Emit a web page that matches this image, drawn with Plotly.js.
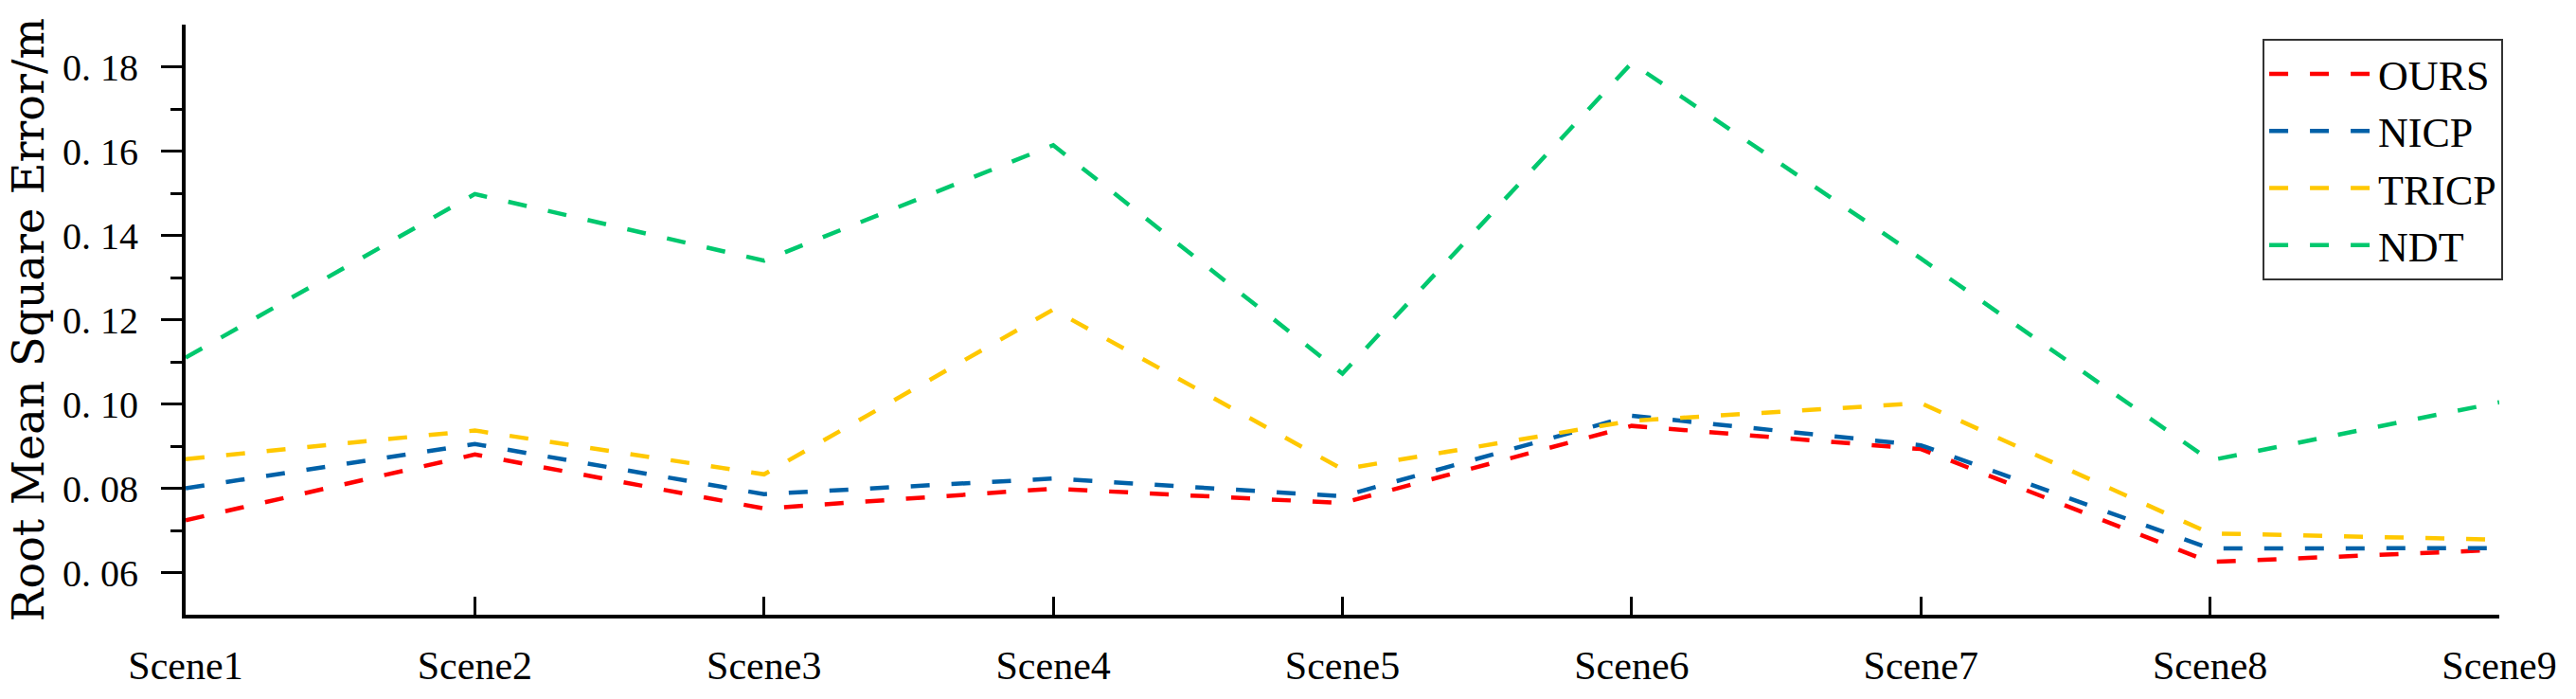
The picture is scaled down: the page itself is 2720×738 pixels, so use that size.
<!DOCTYPE html>
<html>
<head>
<meta charset="utf-8">
<script src="https://cdn.plot.ly/plotly-3.0.1.min.js"></script>
<style>html,body{margin:0;padding:0;background:#fff;}#chart{width:2720px;height:738px;}</style>
</head>
<body>
<div id="chart"></div>
<script>
const scenes = ["Scene1","Scene2","Scene3","Scene4","Scene5","Scene6","Scene7","Scene8","Scene9"];
const ours  = [0.0724, 0.0880, 0.0752, 0.0799, 0.0765, 0.0948, 0.0893, 0.0625, 0.0654];
const nicp  = [0.0800, 0.0905, 0.0786, 0.0823, 0.0781, 0.0972, 0.0902, 0.0657, 0.0658];
const tricp = [0.0869, 0.0937, 0.0833, 0.1224, 0.0845, 0.0960, 0.1002, 0.0693, 0.0678];
const ndt   = [0.1110, 0.1498, 0.1340, 0.1614, 0.1072, 0.1809, 0.1345, 0.0866, 0.1004];
const yTickVals = [0.06, 0.08, 0.10, 0.12, 0.14, 0.16, 0.18];
const yTickText = ["0. 06", "0. 08", "0. 10", "0. 12", "0. 14", "0. 16", "0. 18"];
const yMinorVals = [0.07, 0.09, 0.11, 0.13, 0.15, 0.17];

const series = [
  {name: "OURS", y: ours, color: "#FF0000"},
  {name: "NICP", y: nicp, color: "#0061A8"},
  {name: "TRICP", y: tricp, color: "#FFC800"},
  {name: "NDT", y: ndt, color: "#00C86E"}
];

const traces = series.map(s => ({
  type: "scatter",
  mode: "lines",
  name: s.name,
  x: scenes,
  y: s.y,
  line: {color: s.color, width: 4.5, dash: "20px,23px"},
  hoverinfo: "skip"
}));

const layout = {
  width: 2720,
  height: 738,
  margin: {l: 196, r: 81, t: 26, b: 89},
  paper_bgcolor: "#ffffff",
  plot_bgcolor: "#ffffff",
  font: {family: "Liberation Serif, serif", color: "#000"},
  showlegend: true,
  legend: {
    x: 0.8977, y: 0.976, xanchor: "left", yanchor: "top",
    bgcolor: "#ffffff", bordercolor: "#333333", borderwidth: 2,
    font: {family: "Liberation Serif, serif", size: 44, color: "#000"},
    itemwidth: 110,
    tracegroupgap: 0
  },
  xaxis: {
    type: "category",
    range: [0, 8],
    showline: true, linecolor: "#000", linewidth: 4,
    ticks: "inside", ticklen: 19, tickwidth: 3, tickcolor: "#000",
    showgrid: false, zeroline: false,
    tickfont: {family: "Liberation Serif, serif", size: 42, color: "#000"},
    ticklabelstandoff: 14,
    automargin: false,
    fixedrange: true
  },
  yaxis: {
    range: [0.05, 0.19],
    tickmode: "array", tickvals: yTickVals, ticktext: yTickText,
    showline: true, linecolor: "#000", linewidth: 4,
    ticks: "outside", ticklen: 22, tickwidth: 3, tickcolor: "#000",
    minor: {tickmode: "array", tickvals: yMinorVals, ticks: "outside", ticklen: 12, tickwidth: 3, tickcolor: "#000", showgrid: false},
    showgrid: false, zeroline: false,
    tickfont: {family: "Liberation Serif, serif", size: 40, color: "#000"},
    ticklabelstandoff: 16,
    title: {text: "Root Mean Square Error/m", font: {family: "DejaVu Serif, serif", size: 46, color: "#000"}, standoff: 6},
    automargin: false,
    fixedrange: true
  }
};

Plotly.newPlot("chart", traces, layout, {displayModeBar: false, staticPlot: true});
</script>
</body>
</html>
